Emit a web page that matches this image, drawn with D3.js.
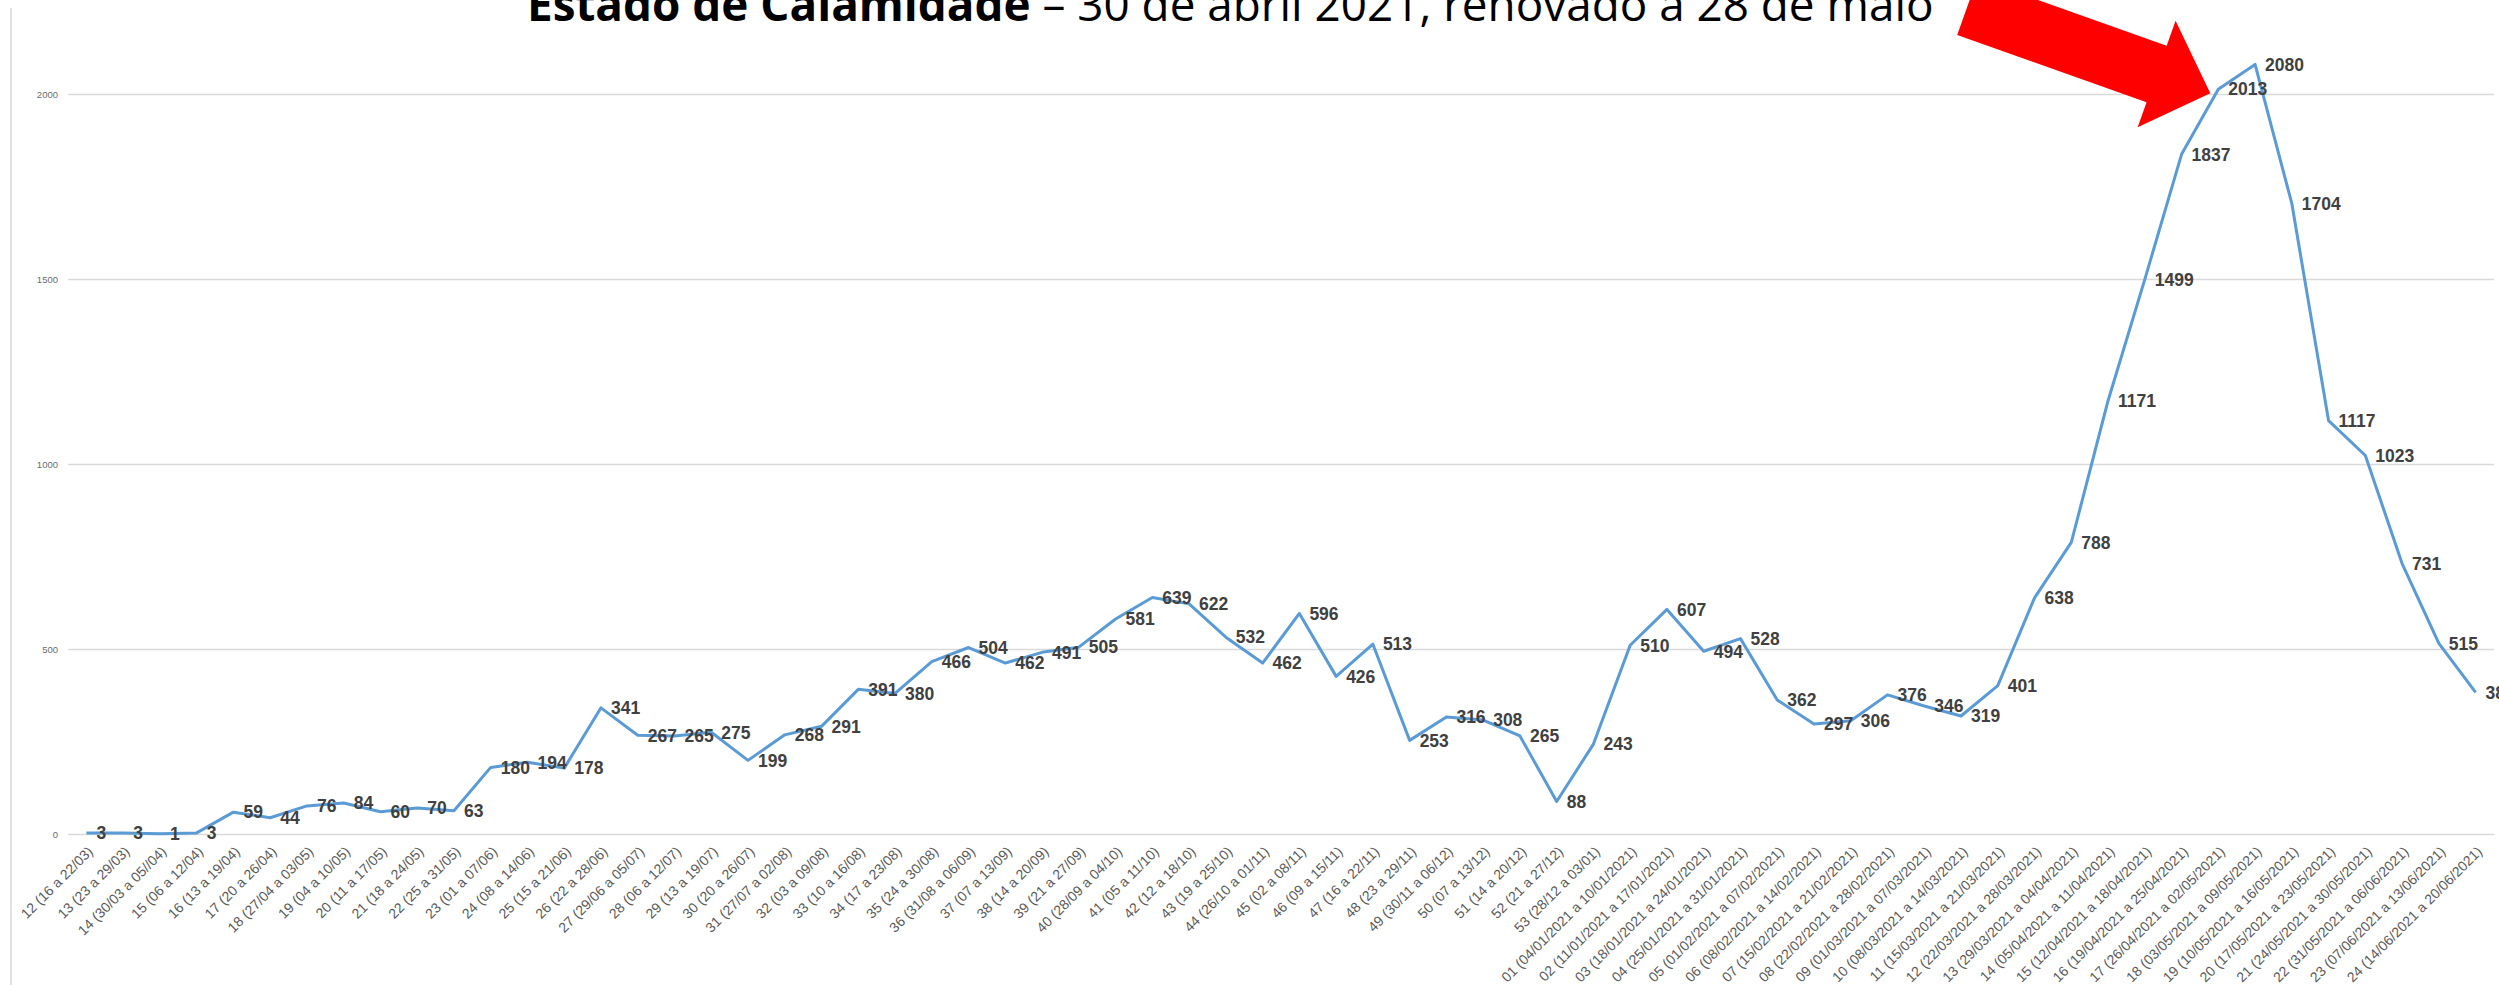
<!DOCTYPE html>
<html>
<head>
<meta charset="utf-8">
<script src="https://cdn.jsdelivr.net/npm/d3@7"></script>
<style>
  html, body { margin: 0; padding: 0; background: #fff; overflow: hidden; }
  svg { display: block; }
</style>
</head>
<body>
<svg id="chart" width="2499" height="985"></svg>
<script>
// semanas epidemiológicas (2020: 12 a 53, 2021: 01 a 24)
const semanas = [
  "12 (16 a 22/03)", "13 (23 a 29/03)", "14 (30/03 a 05//04)", "15 (06 a 12/04)",
  "16 (13 a 19/04)", "17 (20 a 26/04)", "18 (27/04 a 03/05)", "19 (04 a 10/05)",
  "20 (11 a 17/05)", "21 (18 a 24/05)", "22 (25 a 31/05)", "23 (01 a 07/06)",
  "24 (08 a 14/06)", "25 (15 a 21/06)", "26 (22 a 28/06)", "27 (29/06 a 05/07)",
  "28 (06 a 12/07)", "29 (13 a 19/07)", "30 (20 a 26/07)", "31 (27/07 a 02/08)",
  "32 (03 a 09/08)", "33 (10 a 16/08)", "34 (17 a 23/08)", "35 (24 a 30/08)",
  "36 (31/08 a 06/09)", "37 (07 a 13/09)", "38 (14 a 20/09)", "39 (21 a 27/09)",
  "40 (28/09 a 04/10)", "41 (05 a 11/10)", "42 (12 a 18/10)", "43 (19 a 25/10)",
  "44 (26/10 a 01/11)", "45 (02 a 08/11)", "46 (09 a 15/11)", "47 (16 a 22/11)",
  "48 (23 a 29/11)", "49 (30/11 a 06/12)", "50 (07 a 13/12)", "51 (14 a 20/12)",
  "52 (21 a 27/12)", "53 (28/12 a 03/01)",
  "01 (04/01/2021 a 10/01/2021)", "02 (11/01/2021 a 17/01/2021)",
  "03 (18/01/2021 a 24/01/2021)", "04 (25/01/2021 a 31/01/2021)",
  "05 (01/02/2021 a 07/02/2021)", "06 (08/02/2021 a 14/02/2021)",
  "07 (15/02/2021 a 21/02/2021)", "08 (22/02/2021 a 28/02/2021)",
  "09 (01/03/2021 a 07/03/2021)", "10 (08/03/2021 a 14/03/2021)",
  "11 (15/03/2021 a 21/03/2021)", "12 (22/03/2021 a 28/03/2021)",
  "13 (29/03/2021 a 04/04/2021)", "14 (05/04/2021 a 11/04/2021)",
  "15 (12/04/2021 a 18/04/2021)", "16 (19/04/2021 a 25/04/2021)",
  "17 (26/04/2021 a 02/05/2021)", "18 (03/05/2021 a 09/05/2021)",
  "19 (10/05/2021 a 16/05/2021)", "20 (17/05/2021 a 23/05/2021)",
  "21 (24/05/2021 a 30/05/2021)", "22 (31/05/2021 a 06/06/2021)",
  "23 (07/06/2021 a 13/06/2021)", "24 (14/06/2021 a 20/06/2021)"
];

const valores = [
  3, 3, 1, 3, 59, 44, 76, 84, 60, 70, 63, 180,
  194, 178, 341, 267, 265, 275, 199, 268, 291, 391, 380, 466,
  504, 462, 491, 505, 581, 639, 622, 532, 462, 596, 426, 513,
  253, 316, 308, 265, 88, 243,
  510, 607, 494, 528, 362, 297, 306, 376, 346, 319, 401, 638,
  788, 1171, 1499, 1837, 2013, 2080, 1704, 1117, 1023, 731, 515, 383
];

const yTicks = [0, 500, 1000, 1500, 2000];

const tituloBold = "Estado de Calamidade";
const tituloResto = " – 30 de abril 2021, renovado a 28 de maio";
const semanaSeta = "17 (26/04/2021 a 02/05/2021)";

const dados = semanas.map((s, i) => ({ semana: s, valor: valores[i] }));

const svg = d3.select('#chart');

const plotL = 68, plotR = 2494, plotT = 94, plotB = 834;

const x = d3.scaleBand().domain(semanas).range([plotL, plotR]);
const y = d3.scaleLinear().domain([0, 2000]).range([plotB, plotT]);
const cx = d => x(d) + x.bandwidth() / 2;

// borda da área do gráfico
svg.append('line')
  .attr('x1', 11).attr('x2', 11)
  .attr('y1', 8).attr('y2', 985)
  .attr('stroke', '#d9d9d9').attr('stroke-width', 1.5);

// linhas de grelha
const grid = svg.append('g')
  .attr('transform', `translate(${plotL},0)`)
  .call(d3.axisRight(y).tickValues(yTicks).tickSize(plotR - plotL).tickFormat(''));
grid.select('.domain').remove();
grid.selectAll('line').attr('stroke', '#d9d9d9').attr('stroke-width', 1.5);

// eixo y
const yAxis = svg.append('g')
  .attr('transform', `translate(${plotL},0)`)
  .call(d3.axisLeft(y).tickValues(yTicks).tickFormat(d3.format('d')).tickSize(0).tickPadding(10));
yAxis.select('.domain').remove();
yAxis.selectAll('text')
  .style('font-family', 'Liberation Sans, Arial, sans-serif')
  .style('font-size', '9.5px')
  .attr('fill', '#6b6b6b');

// eixo x
const xAxis = svg.append('g')
  .attr('transform', `translate(0,${plotB})`)
  .call(d3.axisBottom(x).tickSize(0).tickPadding(0));
xAxis.select('.domain').remove();
xAxis.selectAll('text')
  .style('font-family', 'Liberation Sans, Arial, sans-serif')
  .style('font-size', '14px')
  .attr('fill', '#595959')
  .attr('text-anchor', 'end')
  .attr('y', 0)
  .attr('dy', '0.35em')
  .attr('transform', 'translate(4,15) rotate(-45)');

// linha
const line = d3.line()
  .x(d => cx(d.semana))
  .y(d => y(d.valor));

svg.append('path')
  .datum(dados)
  .attr('fill', 'none')
  .attr('stroke', '#5b9bd5')
  .attr('stroke-width', 3)
  .attr('stroke-linejoin', 'round')
  .attr('d', line);

// rótulos de dados
svg.append('g')
  .selectAll('text')
  .data(dados)
  .enter().append('text')
  .attr('x', d => cx(d.semana) + 10)
  .attr('y', d => y(d.valor))
  .attr('dy', '0.36em')
  .style('font-family', 'Liberation Sans, Arial, sans-serif')
  .style('font-size', '17.5px')
  .style('font-weight', 'bold')
  .attr('fill', '#404040')
  .text(d => d.valor);

// título (cortado no topo, como na imagem)
const titulo = svg.append('text')
  .attr('x', 527)
  .attr('y', 21)
  .style('font-family', 'Open Sans, Liberation Sans, sans-serif')
  .style('font-size', '50px')
  .attr('fill', '#000');
titulo.append('tspan').style('font-weight', 'bold').text(tituloBold);
titulo.append('tspan').text(tituloResto);
const larg = titulo.node().getComputedTextLength();
titulo.style('font-size', (50 * 1407 / larg) + 'px');

// seta vermelha a apontar para o pico
const alvo = dados.find(d => d.semana === semanaSeta);
svg.append('g')
  .attr('transform', `translate(${cx(alvo.semana) - 8},${y(alvo.valor) + 4}) rotate(19.6)`)
  .append('path')
  .attr('d', 'M0,0 L-57,-56.5 L-57,-30 L-258,-30 L-258,30 L-57,30 L-57,56.5 Z')
  .attr('fill', '#ff0000');
</script>
</body>
</html>
